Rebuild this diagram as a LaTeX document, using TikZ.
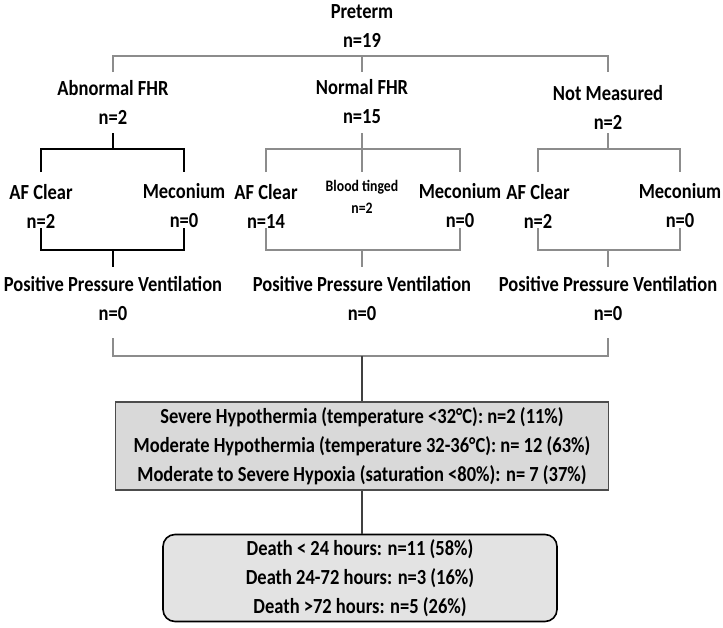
\documentclass[tikz,border=0pt]{standalone}
\usepackage{fontspec}
\setmainfont{Carlito}[FakeStretch=0.86]
\tikzset{
  lbl/.style={align=center,inner sep=0pt,font=\bfseries\fontsize{21.5}{29}\selectfont},
  small/.style={align=center,inner sep=0pt,font=\bfseries\fontsize{16}{22}\selectfont},
  gline/.style={draw=black!45,line width=1.8pt},
  blk/.style={draw=black,line width=2.2pt},
  dline/.style={draw=black!75,line width=1.6pt},
  box/.style={lbl,draw=black!70,line width=1.6pt,fill=black!15,minimum width=493pt,minimum height=88pt},
  rbox/.style={lbl,draw=black,line width=1.6pt,fill=black!11,rounded corners=12pt,minimum width=394pt,minimum height=87pt}
}
\begin{document}
\begin{tikzpicture}[x=1pt,y=-1pt]
  \useasboundingbox (0,0) rectangle (723,627);
  % levels of the brackets
  \coordinate (hT) at (362,56);
  \coordinate (vT) at (0,72);
  \coordinate (sA) at (0,133);
  \coordinate (hA) at (0,149);
  \coordinate (vA) at (0,172);
  \coordinate (uA) at (0,228);
  \coordinate (lA) at (0,250);
  \coordinate (pA) at (0,267);
  \coordinate (cB) at (0,338);
  \coordinate (hB) at (0,356);

  \node[lbl] (pre) at (362,26) {Preterm\\n=19};
  \node[lbl] (abn) at (113,102) {Abnormal FHR\\n=2};
  \node[lbl] (nor) at (362,102) {Normal FHR\\n=15};
  \node[lbl] (notm) at (608,107) {Not Measured\\n=2};

  \node[lbl] (a1) at (41,206) {AF Clear\\n=2};
  \node[lbl] (a2) at (184,206) {Meconium\\n=0};
  \node[lbl] (n1) at (266,206) {AF Clear\\n=14};
  \node[small] (n2) at (362,197) {Blood tinged\\n=2};
  \node[lbl] (n3) at (460,206) {Meconium\\n=0};
  \node[lbl] (m1) at (538,206) {AF Clear\\n=2};
  \node[lbl] (m2) at (680,206) {Meconium\\n=0};

  \node[lbl] (p1) at (113,299) {Positive Pressure Ventilation\\n=0};
  \node[lbl] (p2) at (362,299) {Positive Pressure Ventilation\\n=0};
  \node[lbl] (p3) at (608,299) {Positive Pressure Ventilation\\n=0};

  \node[box] (box1) at (362,446) {Severe Hypothermia (temperature <32°C): n=2 (11\%)\\
    Moderate Hypothermia (temperature 32-36°C): n= 12 (63\%)\\
    Moderate to Severe Hypoxia (saturation <80\%): n= 7 (37\%)};
  \node[rbox] (box2) at (360,578) {Death < 24 hours: n=11 (58\%)\\
    Death 24-72 hours: n=3 (16\%)\\
    Death >72 hours: n=5 (26\%)};

  % top split
  \draw[gline] (abn |- vT) |- (hT) -| (notm |- vT);
  \draw[gline] (hT) -- (nor |- vT);

  % abnormal FHR
  \draw[blk] (abn |- sA) -- (abn |- hA);
  \draw[blk] (a1 |- vA) |- (a2 |- hA) -- (a2 |- vA);
  \draw[blk] (a1 |- uA) |- (a2 |- lA) -- (a2 |- uA);
  \draw[blk] (p1 |- lA) -- (p1 |- pA);

  % normal FHR
  \draw[gline] (nor |- sA) -- (nor |- vA);
  \draw[gline] (n1 |- vA) |- (n3 |- hA) -- (n3 |- vA);
  \draw[gline] (n1 |- uA) |- (n3 |- lA) -- (n3 |- uA);
  \draw[gline] (p2 |- lA) -- (p2 |- pA);

  % not measured
  \draw[gline] (notm |- sA) -- (notm |- hA);
  \draw[gline] (m1 |- vA) |- (m2 |- hA) -- (m2 |- vA);
  \draw[gline] (m1 |- uA) |- (m2 |- lA) -- (m2 |- uA);
  \draw[gline] (p3 |- lA) -- (p3 |- pA);

  % join to outcomes
  \draw[gline] (p1 |- cB) |- (p3 |- hB) -- (p3 |- cB);
  \draw[dline] (p2 |- hB) -- (box1.north);
  \draw[dline] (box1.south -| p2) -- (box2.north -| p2);
\end{tikzpicture}
\end{document}
